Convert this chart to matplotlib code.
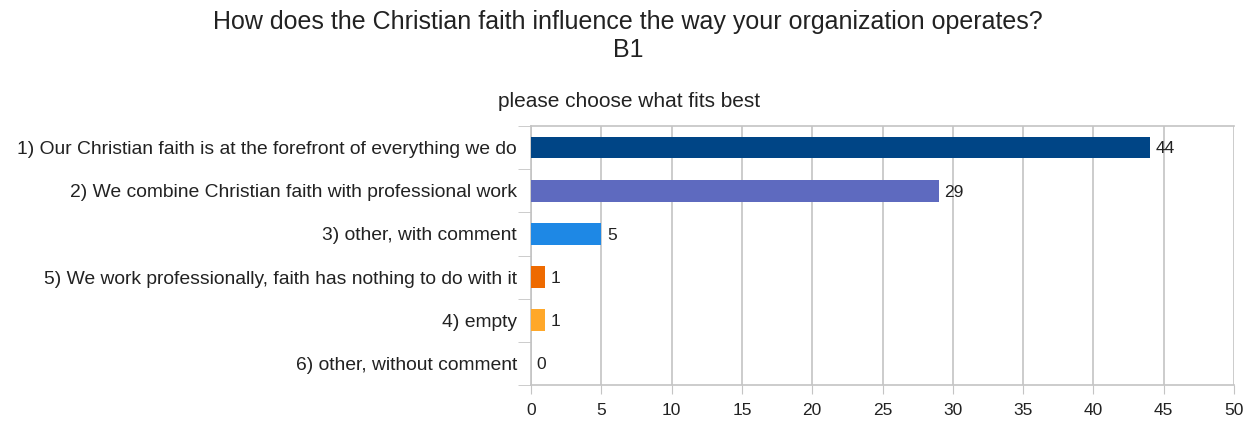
import matplotlib.pyplot as plt

plt.rcParams['font.family'] = ['Liberation Sans', 'DejaVu Sans']

# Answer options, top to bottom, with their counts
answers = [
    '1) Our Christian faith is at the forefront of everything we do',
    '2) We combine Christian faith with professional work',
    '3) other, with comment',
    '5) We work professionally, faith has nothing to do with it',
    '4) empty',
    '6) other, without comment',
]
counts = [44, 29, 5, 1, 1, 0]
colors = ['#004586', '#5e6abf', '#1e88e5', '#ee6a00', '#ffa82a', '#cccccc']
x_ticks = [0, 5, 10, 15, 20, 25, 30, 35, 40, 45, 50]

W, H = 1255, 425
fig = plt.figure(figsize=(W / 100, H / 100), dpi=100)
ax = fig.add_axes([531 / W, 1 - 385 / H, (1234 - 531) / W, (385 - 126) / H])

pos = list(range(len(answers)))
ax.barh(pos, counts, height=0.5, color=colors, edgecolor='none', zorder=3)
for p, c in zip(pos, counts):
    ax.text(c + 0.4, p + 0.03, str(c), va='center', ha='left', fontsize=12.5, color='#222222')

ax.set_ylim(len(answers) - 0.5, -0.5)
ax.set_xlim(0, 50)
ax.set_xticks(x_ticks)
ax.tick_params(axis='x', length=6.5, color='#c4c4c4', labelsize=12.5, labelcolor='#222222', pad=6.5)

# category labels sit on the bands, ticks mark the band borders
ax.set_yticks(pos)
ax.set_yticklabels(answers, fontsize=13.9, color='#222222')
ax.tick_params(axis='y', length=0, pad=10)
ax.set_yticks([p + 0.5 for p in range(-1, len(answers))], minor=True)
ax.tick_params(axis='y', which='minor', length=9.5, color='#c4c4c4')

ax.grid(axis='x', color='#c4c4c4', linewidth=1.2, zorder=0)
for side in ['top', 'bottom', 'left']:
    ax.spines[side].set_color('#c4c4c4')
    ax.spines[side].set_linewidth(1.2)
ax.spines['right'].set_visible(False)

fig.text(628 / W, 1 - 29 / H, 'How does the Christian faith influence the way your organization operates?',
         ha='center', va='baseline', fontsize=18, color='#222222')
fig.text(628 / W, 1 - 57 / H, 'B1', ha='center', va='baseline', fontsize=18, color='#222222')
fig.text(629 / W, 1 - 107 / H, 'please choose what fits best', ha='center', va='baseline',
         fontsize=15, color='#222222')

fig.savefig('out.png', dpi=100)
